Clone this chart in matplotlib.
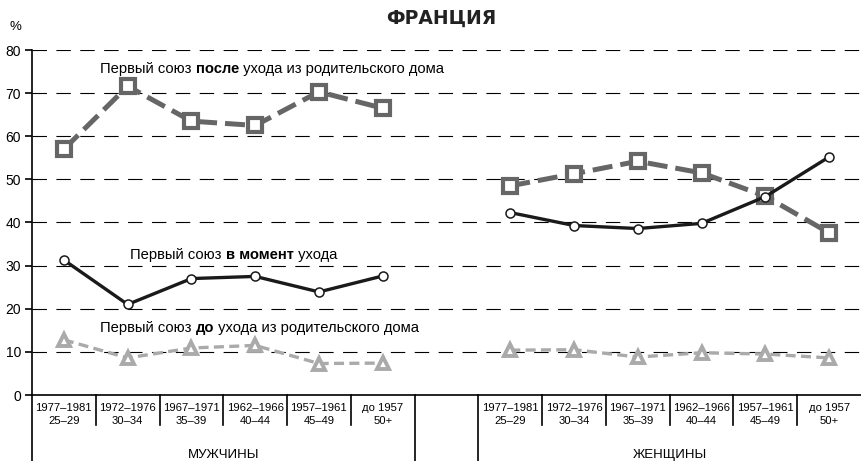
import numpy as np
import matplotlib.pyplot as plt
from matplotlib.transforms import blended_transform_factory

plt.rcParams['font.family'] = ['Liberation Sans', 'DejaVu Sans']

# slot positions: men in slots 0-5, empty slot 6, women in slots 7-12
men_x = np.arange(6) + 0.5
women_x = np.arange(6) + 7.5

cohorts = ["1977–1981\n25–29", "1972–1976\n30–34", "1967–1971\n35–39",
           "1962–1966\n40–44", "1957–1961\n45–49", "до 1957\n50+"]

# Первый союз после ухода
men_after = [57.0, 71.6, 63.5, 62.5, 70.3, 66.5]
women_after = [48.5, 51.3, 54.2, 51.5, 46.1, 37.6]
# Первый союз в момент ухода
men_at = [31.3, 21.0, 27.0, 27.5, 23.9, 27.6]
women_at = [42.3, 39.3, 38.6, 39.8, 46.0, 55.2]
# Первый союз до ухода
men_before = [12.8, 8.6, 10.9, 11.5, 7.3, 7.4]
women_before = [10.4, 10.5, 8.8, 9.8, 9.5, 8.6]

fig = plt.figure(figsize=(8.61, 4.61), dpi=100)
ax = fig.add_axes([32/861, 66/461, 829/861, 345/461])
ax.set_xlim(0, 13)
ax.set_ylim(0, 80)

for v in range(10, 90, 10):
    ax.axhline(v, color='black', lw=0.8, dashes=(13, 8.5), zorder=1)

for xs, ys in [(men_x, men_after), (women_x, women_after)]:
    ax.plot(xs, ys, color='#666666', lw=3.6, dashes=(4, 1.6), marker='s', ms=10,
            mfc='white', mec='#666666', mew=3, zorder=3)
for xs, ys in [(men_x, men_at), (women_x, women_at)]:
    ax.plot(xs, ys, color='#1a1a1a', lw=2.4, marker='o', ms=6.5,
            mfc='white', mec='#1a1a1a', mew=1.1, zorder=4)
for xs, ys in [(men_x, men_before), (women_x, women_before)]:
    ax.plot(xs, ys, color='#aaaaaa', lw=2.4, dashes=(3, 1.6), marker='^', ms=8,
            mfc='white', mec='#aaaaaa', mew=2.8, zorder=3)

ax.spines['top'].set_visible(False)
ax.spines['right'].set_visible(False)
ax.spines['left'].set_linewidth(1.2)
ax.spines['bottom'].set_linewidth(1.2)
ax.set_yticks(range(0, 90, 10))
ax.tick_params(axis='y', length=5, width=1.2, labelsize=10, pad=3)
ax.set_xticks([])

# category dividers and labels below the axis
trans = blended_transform_factory(ax.transData, ax.transAxes)
for x in [1, 2, 3, 4, 5, 8, 9, 10, 11, 12]:
    ax.plot([x, x], [0, -0.088], color='black', lw=1.2, transform=trans, clip_on=False)
for x in [0, 6, 7]:
    ax.plot([x, x], [0, -0.19], color='black', lw=1.2, transform=trans, clip_on=False)

for xs in (men_x, women_x):
    for x, lab in zip(xs, cohorts):
        ax.text(x, -0.024, lab, transform=trans, ha='center', va='top',
                fontsize=8.1, linespacing=1.4)
ax.text(3, -0.183, "МУЖЧИНЫ", transform=trans, ha='center', va='baseline', fontsize=9.5)
ax.text(10, -0.183, "ЖЕНЩИНЫ", transform=trans, ha='center', va='baseline', fontsize=9.5)

ax.text(-0.02, 1.067, "%", transform=ax.transAxes, ha='center', va='center', fontsize=9.5)
fig.text(441/861, 1 - 18/461, "ФРАНЦИЯ", ha='center', va='center',
         fontsize=13.5, fontweight='bold', family='DejaVu Sans', color='#222222')

def mixed(x, y, parts):
    prev = None
    for s, bold in parts:
        w = 'bold' if bold else 'normal'
        if prev is None:
            prev = ax.text(x, y, s, ha='left', va='center', fontsize=10.6, fontweight=w)
        else:
            prev = ax.annotate(s, xy=(1, 0.5), xycoords=prev, ha='left', va='center',
                               fontsize=10.6, fontweight=w)

mixed(1.07, 75.6, [("Первый союз ", False), ("после", True),
                   (" ухода из родительского дома", False)])
mixed(1.54, 32.4, [("Первый союз ", False), ("в момент", True), (" ухода", False)])
mixed(1.07, 15.6, [("Первый союз ", False), ("до", True),
                   (" ухода из родительского дома", False)])

fig.savefig("out.png", dpi=100)
